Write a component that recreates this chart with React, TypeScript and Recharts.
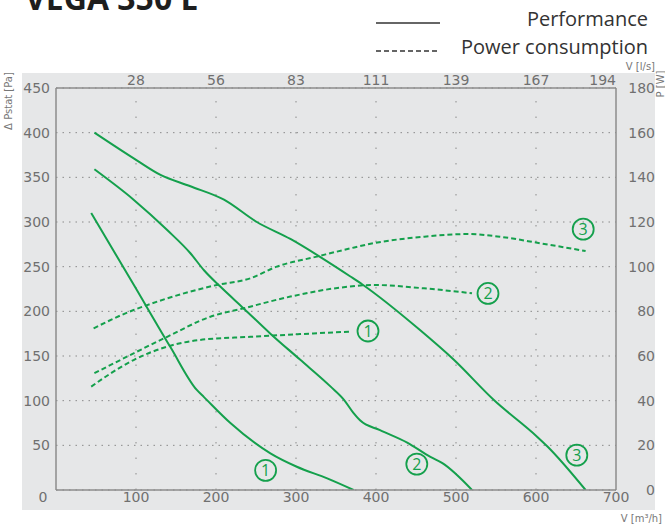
import React from "react";
import {
  LineChart,
  Line,
  XAxis,
  YAxis,
  CartesianGrid,
  ReferenceLine,
  ReferenceDot,
} from "recharts";

// ---- data ----
const flowTicks = [0, 100, 200, 300, 400, 500, 600, 700];
const topFlowTicks = [100, 200, 300, 400, 500, 600, 700];
const pressureTicks = [0, 50, 100, 150, 200, 250, 300, 350, 400, 450];
const powerTicks = [0, 20, 40, 60, 80, 100, 120, 140, 160, 180];

// Performance curves: flow [m3/h] vs static pressure [Pa]
const perf1Flow = [44, 97, 143, 176, 185, 218, 268, 301, 339, 372];
const perf1Pa = [310, 230, 160, 112, 104, 75, 41, 26, 13, 0];

const perf2Flow = [48, 97, 139, 168, 185, 205, 235, 268, 305, 343, 360, 372, 380, 405, 439, 468, 483, 520];
const perf2Pa = [359, 325, 291, 265, 246, 228, 203, 175, 146, 116, 101, 86, 78, 67, 53, 37, 30, 0];

const perf3Flow = [48, 101, 130, 168, 210, 251, 293, 330, 368, 383, 455, 497, 547, 601, 614, 662];
const perf3Pa = [400, 369, 353, 340, 325, 300, 281, 261, 239, 230, 179, 146, 101, 60, 49, 0];

// Power consumption curves: flow [m3/h] vs power [W]
const power1Flow = [44, 97, 139, 180, 243, 305, 368];
const power1W = [46.3, 58.2, 64.2, 67.2, 68.6, 69.8, 70.9];

const power2Flow = [48, 97, 139, 193, 235, 293, 355, 397, 460, 520];
const power2W = [52.3, 61.2, 68.6, 77.6, 81.4, 86.6, 90.6, 91.8, 90.3, 88.1];

const power3Flow = [47, 97, 114, 139, 201, 243, 276, 326, 368, 397, 460, 514, 555, 605, 662];
const power3W = [72.4, 80.6, 82.8, 85.8, 91.8, 94.8, 100, 104.5, 108.2, 110.5, 113.4, 114.6, 113.4, 110.5, 107];

// curve number markers (flow, pressure-axis position)
const markerText = ["1", "2", "3", "1", "2", "3"];
const markerFlow = [262, 451, 651, 390, 540, 659];
const markerPa = [22, 29, 39, 178, 220, 292];

const zip = (xs: number[], ys: number[]) => xs.map((x, i) => ({ x, y: ys[i] }));

const perf1 = zip(perf1Flow, perf1Pa);
const perf2 = zip(perf2Flow, perf2Pa);
const perf3 = zip(perf3Flow, perf3Pa);
const power1 = zip(power1Flow, power1W);
const power2 = zip(power2Flow, power2W);
const power3 = zip(power3Flow, power3W);

const GREEN = "#14a04c";
const TICK_COLOR = "#707070";
const TICK_FONT = "'DejaVu Sans', sans-serif";
const AXIS_COLOR = "#8c8c8c";

const tickStyle = { fontFamily: TICK_FONT, fontSize: 14, fill: TICK_COLOR };

const LeftTick = (p: any) => {
  if (p.payload.value === 0) return <g />;
  return (
    <text x={p.x - 6} y={p.y} dy="0.36em" textAnchor="end" {...tickStyle}>
      {p.payload.value}
    </text>
  );
};

const RightTick = (p: any) => (
  <text x={p.x + 39} y={p.y} dy="0.36em" textAnchor="end" {...tickStyle}>
    {p.payload.value}
  </text>
);

const BottomTick = (p: any) => (
  <text
    x={p.payload.value === 0 ? p.x - 13 : p.x}
    y={p.y + 12}
    textAnchor="middle"
    {...tickStyle}
  >
    {p.payload.value}
  </text>
);

const TopTick = (p: any) => (
  <text
    x={p.x}
    y={p.y - 3}
    textAnchor={p.payload.value === 700 ? "end" : "middle"}
    {...tickStyle}
  >
    {Math.round(p.payload.value / 3.6)}
  </text>
);

const Marker = (label: string) => (p: any) => (
  <g>
    <circle cx={p.cx} cy={p.cy} r={10.5} fill="none" stroke={GREEN} strokeWidth={1.8} />
    <text
      x={p.cx}
      y={p.cy}
      dy="0.36em"
      textAnchor="middle"
      fontFamily="'Open Sans', sans-serif"
      fontSize={16}
      fontWeight={500}
      fill={GREEN}
    >
      {label}
    </text>
  </g>
);

export default function App() {
  return (
    <div style={{ position: "absolute", left: 0, top: 0, width: 665, height: 527, background: "#fff", overflow: "hidden" }}>
      <div style={{ position: "absolute", left: 22, top: 73, width: 633, height: 437, background: "#e6e7e8" }} />
      <div style={{ position: "absolute", left: 0, top: 0 }}>
        <LineChart width={665} height={527} margin={{ top: 68, right: 0, bottom: 7, left: 0 }}>
          <CartesianGrid
            xAxisId="b"
            yAxisId="l"
            vertical={false}
            stroke="#8a8a8a"
            strokeDasharray="1.5 5"
          />
          {topFlowTicks.slice(0, -1).map((v) => (
            <ReferenceLine
              key={v}
              x={v}
              xAxisId="b"
              yAxisId="l"
              stroke="#8a8a8a"
              strokeDasharray="1.5 14"
            />
          ))}
          <XAxis
            xAxisId="b"
            dataKey="x"
            type="number"
            domain={[0, 700]}
            ticks={flowTicks}
            orientation="bottom"
            height={30}
            tickLine={false}
            tickSize={0}
            tickMargin={0}
            axisLine={{ stroke: AXIS_COLOR, strokeWidth: 1.5 }}
            tick={<BottomTick />}
            allowDataOverflow
          />
          <XAxis
            xAxisId="t"
            dataKey="x"
            type="number"
            domain={[0, 700]}
            ticks={topFlowTicks}
            orientation="top"
            height={20}
            tickLine={false}
            tickSize={0}
            tickMargin={0}
            axisLine={{ stroke: AXIS_COLOR, strokeWidth: 1.5 }}
            tick={<TopTick />}
            allowDataOverflow
          />
          <YAxis
            yAxisId="l"
            type="number"
            domain={[0, 450]}
            ticks={pressureTicks}
            orientation="left"
            width={56}
            tickLine={false}
            tickSize={0}
            tickMargin={0}
            axisLine={{ stroke: AXIS_COLOR, strokeWidth: 1.5 }}
            tick={<LeftTick />}
            allowDataOverflow
          />
          <YAxis
            yAxisId="r"
            type="number"
            domain={[0, 180]}
            ticks={powerTicks}
            orientation="right"
            width={49}
            tickLine={false}
            tickSize={0}
            tickMargin={0}
            axisLine={{ stroke: AXIS_COLOR, strokeWidth: 1.5 }}
            tick={<RightTick />}
            allowDataOverflow
          />
          {[perf1, perf2, perf3].map((d, i) => (
            <Line
              key={"perf" + i}
              data={d}
              dataKey="y"
              xAxisId="b"
              yAxisId="l"
              type="monotone"
              stroke={GREEN}
              strokeWidth={2}
              dot={false}
              activeDot={false}
              isAnimationActive={false}
            />
          ))}
          {[power1, power2, power3].map((d, i) => (
            <Line
              key={"power" + i}
              data={d}
              dataKey="y"
              xAxisId="b"
              yAxisId="r"
              type="monotone"
              stroke={GREEN}
              strokeWidth={2}
              strokeDasharray="5 3"
              dot={false}
              activeDot={false}
              isAnimationActive={false}
            />
          ))}
          {markerText.map((t, i) => (
            <ReferenceDot
              key={"m" + i}
              x={markerFlow[i]}
              y={markerPa[i]}
              xAxisId="b"
              yAxisId="l"
              r={10}
              shape={Marker(t)}
            />
          ))}
        </LineChart>
      </div>
      <svg
        width={665}
        height={527}
        style={{ position: "absolute", left: 0, top: 0, pointerEvents: "none" }}
      >
        <text x={25} y={10} fontFamily="'Open Sans', sans-serif" fontWeight="bold" fontSize={32} fill="#1e1e1e">
          VEGA 350 E
        </text>
        <line x1={376} y1={23} x2={440} y2={23} stroke="#333" strokeWidth={1.5} />
        <line x1={376} y1={51} x2={440} y2={51} stroke="#333" strokeWidth={1.5} strokeDasharray="5 3" />
        <text x={648} y={26} textAnchor="end" fontFamily="'Open Sans', sans-serif" fontSize={20} fill="#333">
          Performance
        </text>
        <text x={648} y={54} textAnchor="end" fontFamily="'Open Sans', sans-serif" fontSize={20} fill="#333">
          Power consumption
        </text>
        <text x={655} y={70} textAnchor="end" fontFamily={TICK_FONT} fontSize={10} fill="#777">
          V [l/s]
        </text>
        <text x={662} y={522} textAnchor="end" fontFamily={TICK_FONT} fontSize={10} fill="#777">
          V [m³/h]
        </text>
        <text
          x={12}
          y={101}
          transform="rotate(-90 12 101)"
          textAnchor="middle"
          fontFamily={TICK_FONT}
          fontSize={10}
          fill="#777"
        >
          Δ Pstat [Pa]
        </text>
        <text
          x={664}
          y={84}
          transform="rotate(-90 664 84)"
          textAnchor="middle"
          fontFamily={TICK_FONT}
          fontSize={10}
          fill="#777"
        >
          P [W]
        </text>
      </svg>
    </div>
  );
}
